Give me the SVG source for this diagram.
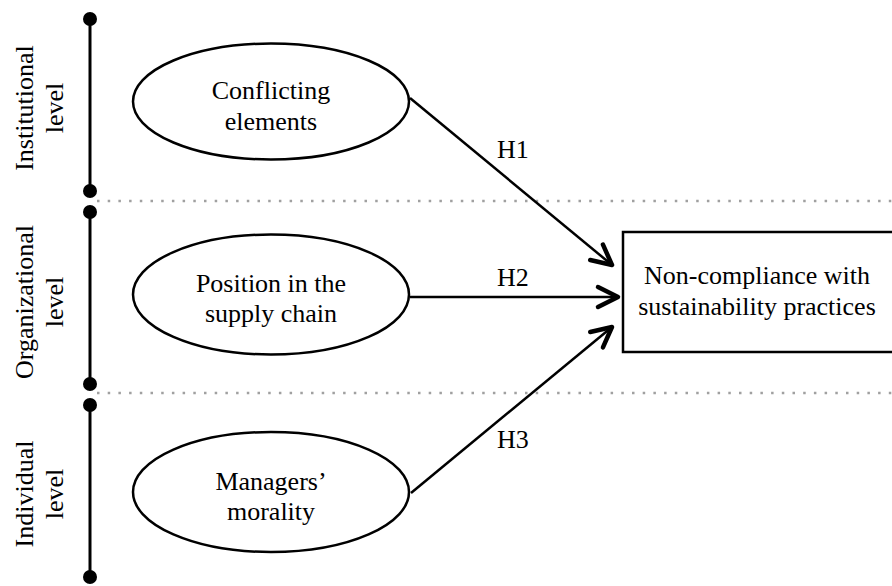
<svg xmlns="http://www.w3.org/2000/svg" width="892" height="586" viewBox="0 0 892 586">
<style>
text{font-family:"Liberation Serif","Times New Roman",serif;font-size:26px;fill:#000}
.node{fill:#fff;stroke:#000;stroke-width:2.5}
.axis{stroke:#000;stroke-width:3}
.dot{fill:#000}
.sep{stroke:#a0a0a0;stroke-width:2.5;stroke-dasharray:2.5 8.2}
.conn{stroke:#000;stroke-width:2.5;fill:none}
</style>
<defs>
<marker id="arr" markerUnits="userSpaceOnUse" markerWidth="40" markerHeight="40" viewBox="-30 -20 40 40" refX="0" refY="0" orient="auto">
<path d="M -20 -10 L 0 0 L -20 10" fill="none" stroke="#000" stroke-width="4.5" stroke-linecap="round" stroke-linejoin="round"/>
</marker>
</defs>
<rect width="892" height="586" fill="#fff"/>
<g id="separators">
<line class="sep" x1="97" y1="201" x2="892" y2="201"/>
<line class="sep" x1="97" y1="393" x2="892" y2="393"/>
</g>
<g id="level-institutional">
<line class="axis" x1="90" y1="19" x2="90" y2="191"/>
<circle class="dot" cx="90" cy="19" r="7"/>
<circle class="dot" cx="90" cy="191" r="7"/>
<text transform="translate(33,108) rotate(-90)" text-anchor="middle">Institutional</text>
<text transform="translate(63,108) rotate(-90)" text-anchor="middle">level</text>
</g>
<g id="level-organizational">
<line class="axis" x1="90" y1="212" x2="90" y2="384"/>
<circle class="dot" cx="90" cy="212" r="7"/>
<circle class="dot" cx="90" cy="384" r="7"/>
<text transform="translate(33,302) rotate(-90)" text-anchor="middle">Organizational</text>
<text transform="translate(63,302) rotate(-90)" text-anchor="middle">level</text>
</g>
<g id="level-individual">
<line class="axis" x1="90" y1="405" x2="90" y2="577"/>
<circle class="dot" cx="90" cy="405" r="7"/>
<circle class="dot" cx="90" cy="577" r="7"/>
<text transform="translate(33,494) rotate(-90)" text-anchor="middle">Individual</text>
<text transform="translate(63,494) rotate(-90)" text-anchor="middle">level</text>
</g>
<g id="connectors">
<line class="conn" x1="410" y1="98" x2="612" y2="265" marker-end="url(#arr)"/>
<line class="conn" x1="410" y1="297" x2="618" y2="297" marker-end="url(#arr)"/>
<line class="conn" x1="411" y1="493" x2="612" y2="327" marker-end="url(#arr)"/>
<text x="497" y="158">H1</text>
<text x="497" y="286">H2</text>
<text x="497" y="448">H3</text>
</g>
<g id="node-conflicting">
<ellipse class="node" cx="271" cy="101.5" rx="138" ry="58"/>
<text x="271" y="99" text-anchor="middle">Conflicting</text>
<text x="271" y="130" text-anchor="middle">elements</text>
</g>
<g id="node-position">
<ellipse class="node" cx="271" cy="294.5" rx="138" ry="60"/>
<text x="271" y="292" text-anchor="middle">Position in the</text>
<text x="271" y="322" text-anchor="middle">supply chain</text>
</g>
<g id="node-morality">
<ellipse class="node" cx="271" cy="492" rx="138" ry="60"/>
<text x="271" y="490" text-anchor="middle">Managers’</text>
<text x="271" y="520" text-anchor="middle">morality</text>
</g>
<g id="node-noncompliance">
<rect class="node" x="623" y="232" width="290" height="120"/>
<text x="757" y="284" text-anchor="middle">Non-compliance with</text>
<text x="757" y="315" text-anchor="middle">sustainability practices</text>
</g>
</svg>
